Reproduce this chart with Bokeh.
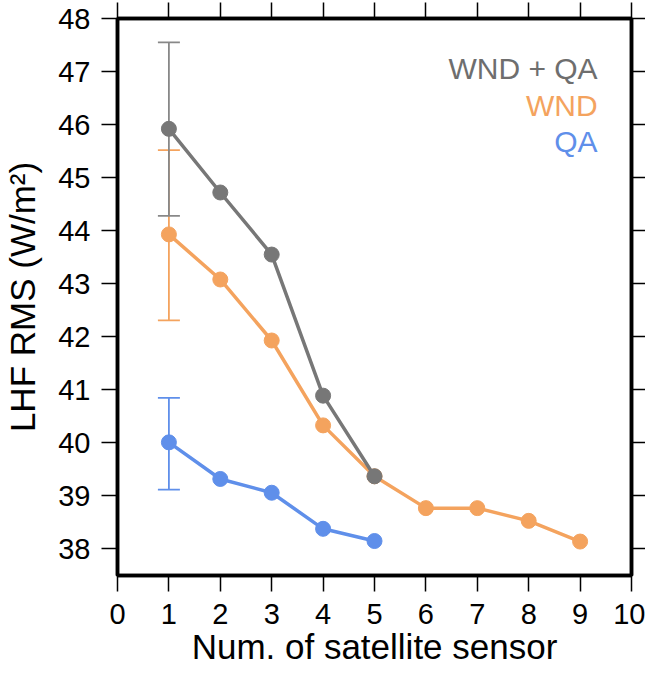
from bokeh.plotting import figure
from bokeh.models import ColumnDataSource, Whisker, TeeHead, LinearAxis, Label, Range1d, FixedTicker
from bokeh.embed import file_html
from bokeh.resources import INLINE

# ---- data ----
x_both = [1, 2, 3, 4, 5]
y_both = [45.92, 44.72, 43.55, 40.89, 39.37]
x_wnd = [1, 2, 3, 4, 5, 6, 7, 8, 9]
y_wnd = [43.93, 43.08, 41.93, 40.33, 39.37, 38.77, 38.77, 38.53, 38.14]
x_qa = [1, 2, 3, 4, 5]
y_qa = [40.01, 39.32, 39.06, 38.38, 38.15]

err_x = [1]
err_both_lo = [44.28]
err_both_hi = [47.55]
err_wnd_lo = [42.31]
err_wnd_hi = [45.52]
err_qa_lo = [39.12]
err_qa_hi = [40.85]

x_ticks = [0, 1, 2, 3, 4, 5, 6, 7, 8, 9, 10]
y_ticks = [38, 39, 40, 41, 42, 43, 44, 45, 46, 47, 48]

series_names = ["WND + QA", "WND", "QA"]
GRAY = "#777777"
ORANGE = "#f4a35e"
BLUE = "#5f8fea"
GRAY_T = "#6e6e6e"

FONT = "Liberation Sans"

p = figure(width=645, height=668, output_backend="svg", toolbar_location=None,
           x_range=Range1d(0, 10), y_range=Range1d(37.5, 48),
           min_border_left=117, min_border_top=18, min_border_right=0, min_border_bottom=0,
           background_fill_color="white", border_fill_color="white")
p.grid.visible = False
p.outline_line_color = "black"
p.outline_line_width = 3.5

bottom_ax = p.below[0]
left_ax = p.left[0]

# extra axes
top_ax = LinearAxis()
right_ax = LinearAxis()
p.add_layout(top_ax, "above")
p.add_layout(right_ax, "right")

for ax in [bottom_ax, top_ax]:
    ax.ticker = FixedTicker(ticks=x_ticks)
for ax in [left_ax, right_ax]:
    ax.ticker = FixedTicker(ticks=y_ticks)

for ax in [bottom_ax, left_ax, top_ax, right_ax]:
    ax.axis_line_color = "black"
    ax.axis_line_width = 3.5
    ax.major_tick_line_color = "black"
    ax.major_tick_line_width = 1.5
    ax.major_tick_in = 0
    ax.minor_tick_line_color = None
    ax.major_label_text_font = FONT
    ax.major_label_text_color = "black"
    ax.axis_label_text_font = FONT
    ax.axis_label_text_font_style = "normal"
    ax.axis_label_text_color = "black"

top_ax.major_label_overrides = {t: "" for t in x_ticks}
right_ax.major_label_overrides = {t: "" for t in y_ticks}
for ax in [top_ax, right_ax]:
    ax.major_label_standoff = 0
top_ax.major_tick_out = 16
right_ax.major_tick_out = 14

bottom_ax.major_tick_out = 16
bottom_ax.major_label_text_font_size = "29px"
bottom_ax.major_label_standoff = 12
bottom_ax.axis_label = "Num. of satellite sensor"
bottom_ax.axis_label_text_font_size = "35px"
bottom_ax.axis_label_standoff = 0

left_ax.major_tick_out = 16
left_ax.major_label_text_font_size = "29px"
left_ax.major_label_standoff = 11
left_ax.axis_label = "LHF RMS (W/m²)"
left_ax.axis_label_text_font_size = "35px"
left_ax.axis_label_standoff = 13

# error bars
def add_err(lo, hi, color):
    src = ColumnDataSource(dict(x=err_x, lo=lo, hi=hi))
    w = Whisker(source=src, base="x", lower="lo", upper="hi",
                line_color=color, line_width=1.8,
                upper_head=TeeHead(size=22, line_color=color, line_width=1.8),
                lower_head=TeeHead(size=22, line_color=color, line_width=1.8))
    p.add_layout(w)

add_err(err_qa_lo, err_qa_hi, BLUE)
add_err(err_wnd_lo, err_wnd_hi, ORANGE)
add_err(err_both_lo, err_both_hi, "#888888")

# lines
for xs, ys, c in [(x_qa, y_qa, BLUE), (x_wnd, y_wnd, ORANGE), (x_both, y_both, GRAY)]:
    p.line(xs, ys, line_color=c, line_width=3.5)
    p.scatter(xs, ys, size=15, fill_color=c, line_color=c)

# legend-like labels
for name, yv, c in zip(series_names, [47.06, 46.36, 45.68], [GRAY_T, ORANGE, BLUE]):
    p.add_layout(Label(x=9.34, y=yv, text=name, text_align="right", text_baseline="middle",
                       text_font=FONT, text_font_size="30px", text_color=c))

open("out.html", "w").write(file_html(p, INLINE))
